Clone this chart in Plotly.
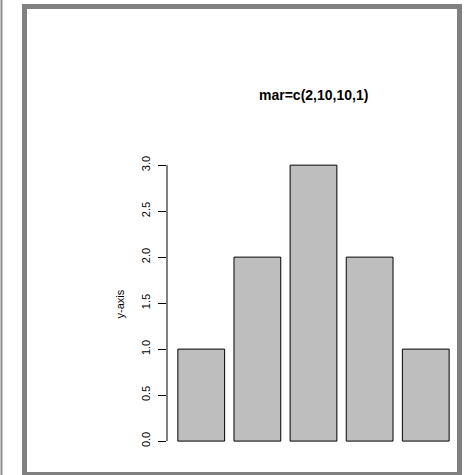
import plotly.graph_objects as go

# bar heights, as in barplot(c(1,2,3,2,1))
categories = ["b1", "b2", "b3", "b4", "b5"]
heights = [1, 2, 3, 2, 1]
tick_vals = [0.0, 0.5, 1.0, 1.5, 2.0, 2.5, 3.0]
tick_text = ["0.0", "0.5", "1.0", "1.5", "2.0", "2.5", "3.0"]
title_text = "mar=c(2,10,10,1)"
ylabel_text = "y-axis"

W, H = 468, 475
L, R, T, B = 167, 8, 154, 20
plot_w = W - L - R
plot_h = H - T - B


def px_x(px):
    return (px - L) / plot_w


def px_y(py):
    return (H - B - py) / plot_h


FONT = "Liberation Sans, Arial, sans-serif"
FRAME = "#808080"

fig = go.Figure(go.Bar(
    x=categories, y=heights,
    marker=dict(color="#bebebe", line=dict(color="black", width=1)),
    hoverinfo="skip",
))

fig.update_layout(
    width=W, height=H, autosize=False,
    margin=dict(l=L, r=R, t=T, b=B, pad=0),
    paper_bgcolor="white", plot_bgcolor="white",
    showlegend=False, bargap=1 - 1 / 1.2,
    font=dict(family=FONT, size=11, color="black"),
    xaxis=dict(visible=False, range=[-0.61, 4.61], fixedrange=True),
    yaxis=dict(range=[-0.1512, 3.1212], tickvals=tick_vals, ticktext=tick_text,
               tickangle=-90, ticks="outside", ticklen=8, tickcolor="black",
               showgrid=False, zeroline=False, showline=False,
               ticklabelstandoff=4, fixedrange=True),
)

# y axis line only across the tick span, like R's axis()
fig.add_shape(type="line", xref="paper", yref="y", x0=0, x1=0, y0=0, y1=3,
              line=dict(color="black", width=1))

fig.add_annotation(text=f"<b>{title_text}</b>", xref="paper", yref="paper",
                   x=0.5, y=px_y(95), xanchor="center", yanchor="middle",
                   showarrow=False, font=dict(size=14, family=FONT))
fig.add_annotation(text=ylabel_text, xref="paper", yref="paper",
                   x=px_x(119), y=0.5, textangle=-90, xanchor="center",
                   yanchor="middle", showarrow=False, font=dict(size=11, family=FONT))

# grey picture frame around the device
fig.add_shape(type="rect", xref="paper", yref="paper",
              x0=px_x(24.5), x1=px_x(459.5), y0=px_y(474.5), y1=px_y(6.5),
              line=dict(color=FRAME, width=5), layer="above")
fig.add_shape(type="line", xref="paper", yref="paper",
              x0=px_x(1.5), x1=px_x(1.5), y0=px_y(0), y1=px_y(H),
              line=dict(color="#8c8c8c", width=2), layer="above")

# drop the browser's default body margin so the figure sits at 0,0
fig.write_html("out.html", config={"displayModeBar": False},
               post_script="document.body.style.margin='0';document.body.style.overflow='hidden';")
